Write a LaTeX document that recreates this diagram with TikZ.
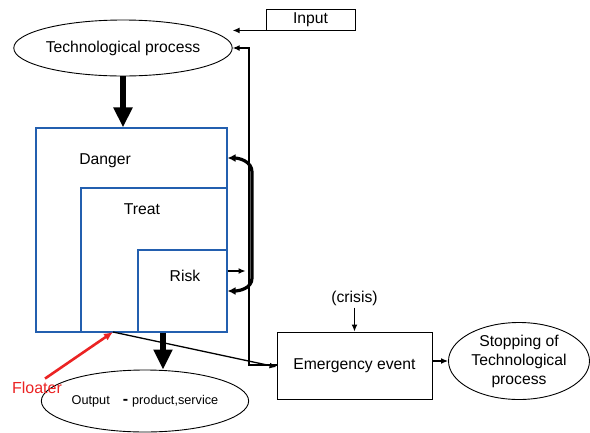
\documentclass[tikz,border=0pt]{standalone}
\usepackage{fontspec}
\setmainfont{Liberation Sans}
\usetikzlibrary{arrows.meta, positioning, shapes.geometric}
\definecolor{zoneblue}{RGB}{35,95,175}
\definecolor{floatred}{RGB}{235,35,35}

\begin{document}
\begin{tikzpicture}[x=1pt, y=-1pt, font=\fontsize{15.7}{19}\selectfont,
	zone/.style={draw=zoneblue, line width=1.1pt, rectangle, inner sep=0},
	oval/.style={draw, ellipse, line width=0.9pt, inner sep=0, align=center},
	thinarrow/.style={-{Latex[length=7pt,width=6pt]}, line width=1.3pt},
	bigarrow/.style={-{Triangle[length=20pt,width=18pt]}, line width=6.5pt}]
		\useasboundingbox (0,0) rectangle (590,432);
		% nodes
		
		\node[oval, minimum width=200pt, minimum height=56pt] (tech) at (123,48) {Technological process};
		\node[draw, rectangle, line width=0.9pt, minimum width=89pt, minimum height=21pt, inner sep=0] (input) at (310.5,19.5) {Input};
		
		\node[zone, minimum width=191pt, minimum height=204pt] (danger) at (131.5,230) {};
		\node[zone, minimum width=146pt, minimum height=144pt] (treat) at (154,260) {};
		\node[zone, minimum width=89pt, minimum height=82pt] (risk) at (182.5,291) {};
		\node (dangerlbl) at (105,161) {Danger};
		\node (treatlbl) at (142,209) {Treat};
		\node (risklbl) at (185,276) {Risk};
		
		\node[oval, minimum width=170pt, minimum height=62pt, font=\fontsize{12.7}{15}\selectfont] (output) at (145,401)
		{Output\hspace{13pt}\textbf{\fontsize{16}{16}\selectfont -}\hspace{4pt}product,service};
		\node[text=floatred, font=\fontsize{16}{19}\selectfont] (floater) at (37,388) {Floater};
		
		\node[draw, rectangle, line width=0.9pt, minimum width=155pt, minimum height=67pt] (emergency) at (354.5,365.5) {Emergency event};
		\node[above = 24pt of emergency, inner sep=2pt] (crisis) {(crisis)};
		\node[oval, minimum width=141pt, minimum height=77pt] (stopping) at (519,361)
		{Stopping of\\Technological\\process};
		
		\coordinate (flpoint) at (113,332);
		\coordinate (fbcorner) at (249,365);
		
		% connectors
		\draw[thinarrow] (input.south west) -- (tech.east |- input.south west);
		\draw[thinarrow] (fbcorner -| emergency.west) -- (fbcorner) |- (tech.east);
		\draw[bigarrow] (tech.south) -- (tech.south |- danger.north);
		\draw[bigarrow] (danger.south -| 163,0) -- (output.north -| 163,0);
		
		\draw[{Latex[length=8pt,width=8pt]}-{Latex[length=8pt,width=8pt]}, line width=3.2pt]
		([yshift=72pt]danger.east) to[out=0, in=90] (252,172) -- (252,278) to[out=-90, in=0] (risk.east);
		\draw[thinarrow] ([yshift=20pt]risk.east) -- ++(18,0);
		
		\draw[thinarrow] (flpoint) -- ([yshift=-1.5pt]emergency.west);
		\draw[-{Latex[length=9pt,width=8pt]}, line width=2.6pt, floatred] ([xshift=8pt]floater.north) -- (flpoint);
		\draw[thinarrow] (crisis.south) -- (emergency.north);
		\draw[thinarrow] (emergency.east |- stopping.west) -- (stopping.west);
\end{tikzpicture}
\end{document}
